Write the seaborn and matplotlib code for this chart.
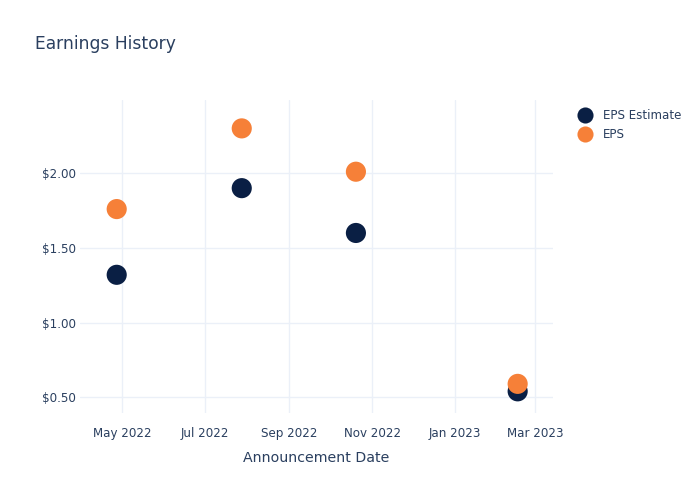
import matplotlib
matplotlib.use("Agg")
import matplotlib.pyplot as plt
import matplotlib.dates as mdates
from matplotlib.ticker import FuncFormatter
import seaborn as sns
import pandas as pd

dates = ["2022-04-27", "2022-07-28", "2022-10-20", "2023-02-16"]
eps_estimate = [1.32, 1.90, 1.60, 0.54]
eps_actual = [1.76, 2.30, 2.01, 0.59]
series_names = ["EPS Estimate", "EPS"]
colors = ["#0a1f44", "#f68038"]

df = pd.DataFrame({
    "date": pd.to_datetime(dates * 2),
    "value": eps_estimate + eps_actual,
    "series": [series_names[0]] * len(dates) + [series_names[1]] * len(dates),
})

sns.set_style("white")
plt.rcParams["font.family"] = ["DejaVu Sans"]
text_color = "#2a3f5f"

fig = plt.figure(figsize=(7, 5), dpi=100)
ax = fig.add_axes([80 / 700, 1 - 413 / 500, (553 - 80) / 700, (413 - 100) / 500])

sns.scatterplot(data=df, x="date", y="value", hue="series", palette=colors,
                hue_order=series_names, s=210, linewidth=0, ax=ax, zorder=3)

ax.set_xlim(pd.Timestamp("2022-03-31"), pd.Timestamp("2023-03-14"))
ax.set_ylim(0.395, 2.49)

ax.xaxis.set_major_locator(mdates.MonthLocator(bymonth=[1, 3, 5, 7, 9, 11]))
ax.xaxis.set_major_formatter(mdates.DateFormatter("%b %Y"))
ax.set_yticks([0.5, 1.0, 1.5, 2.0])
ax.yaxis.set_major_formatter(FuncFormatter(lambda v, p: f"${v:.2f}"))

ax.grid(True, color="#ebf0f8", linewidth=1)
ax.set_axisbelow(True)
for s in ax.spines.values():
    s.set_visible(False)
ax.tick_params(axis="both", length=0, labelsize=8.6, colors=text_color)
ax.tick_params(axis="x", pad=10)
ax.tick_params(axis="y", pad=3)

ax.set_xlabel("Announcement Date", fontsize=10.2, color=text_color, labelpad=8)
ax.set_ylabel("")

fig.text(35 / 700, 1 - 44 / 500, "Earnings History", fontsize=12.3,
         color=text_color, ha="left", va="center")

handles, labels = ax.get_legend_handles_labels()
leg = ax.legend(handles, labels, loc="upper left", bbox_to_anchor=(568 / 700, 1 - 104 / 500),
                bbox_transform=fig.transFigure, frameon=False, fontsize=8.6,
                handletextpad=0.55, labelspacing=0.5, borderaxespad=0, markerscale=0.8)
for t in leg.get_texts():
    t.set_color(text_color)

fig.savefig("out.png", dpi=100)
